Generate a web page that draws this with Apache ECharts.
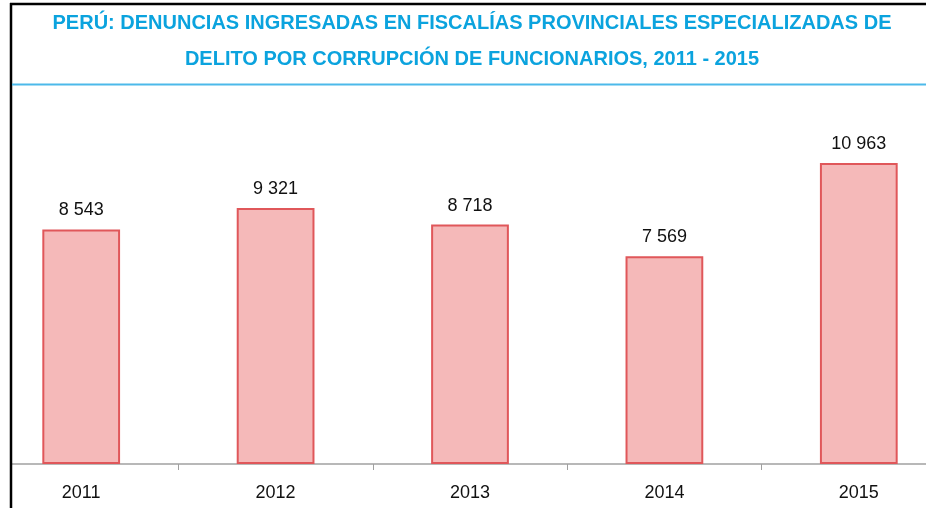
<!DOCTYPE html>
<html>
<head>
<meta charset="utf-8">
<script src="https://cdn.jsdelivr.net/npm/echarts@6/dist/echarts.min.js"></script>
<style>
  html, body { margin: 0; padding: 0; background: #fff; overflow: hidden; width: 926px; height: 508px; }
  /* the plot in the picture is cropped on both sides, so the canvas is wider than the page */
  #chart1 { position: absolute; left: -16px; top: 0; width: 972px; height: 508px; }
</style>
</head>
<body>
<div id="chart1"></div>
<script>
// data
const years = ['2011', '2012', '2013', '2014', '2015'];
const denuncias = [8543, 9321, 8718, 7569, 10963];

const fontFam = '"Liberation Sans", Arial, sans-serif';
const dx = 16; // shift between page and canvas

function fmtSpace(v) {
    // 10963 -> "10 963"
    return String(v).replace(/\B(?=(\d{3})+(?!\d))/g, ' ');
}

let dom1 = document.getElementById('chart1');
let Chart1 = echarts.init(dom1);

let option1 = {
    animation: false,
    backgroundColor: '#fff',
    title: {
        text: 'PERÚ: DENUNCIAS INGRESADAS EN FISCALÍAS PROVINCIALES ESPECIALIZADAS DE\nDELITO POR CORRUPCIÓN DE FUNCIONARIOS, 2011 - 2015',
        left: 467 + dx,
        textAlign: 'center',
        top: 0,
        textStyle: {
            fontFamily: fontFam,
            fontSize: 20,
            fontWeight: 'bold',
            color: '#0ba3de',
            lineHeight: 36
        }
    },
    grid: {
        left: 0,
        right: 0,
        top: 107,
        bottom: 44
    },
    xAxis: {
        type: 'category',
        data: years,
        axisLine: { lineStyle: { color: '#a0a0a0', width: 1.5 } },
        axisTick: { show: true, length: 6, lineStyle: { color: '#a0a0a0' } },
        axisLabel: {
            margin: 20,
            fontFamily: fontFam,
            fontSize: 18,
            color: '#111'
        }
    },
    yAxis: {
        type: 'value',
        min: 0,
        max: 13000,
        show: false,
        splitLine: { show: false }
    },
    series: [
        {
            name: 'Denuncias',
            type: 'bar',
            barWidth: '40%',
            data: denuncias,
            itemStyle: {
                color: '#f5b9b9',
                borderColor: '#e0575a',
                borderWidth: 2
            },
            label: {
                show: true,
                position: 'top',
                distance: 10,
                fontFamily: fontFam,
                fontSize: 18,
                color: '#111',
                formatter: function (p) { return fmtSpace(p.value); }
            }
        }
    ],
    graphic: [
        // white margin left of the frame (hides the axis line there)
        { type: 'rect', z: 100, shape: { x: 0, y: 0, width: 10 + dx, height: 508 }, style: { fill: '#fff' } },
        // black frame on the left and top
        { type: 'line', z: 101, shape: { x1: 11 + dx, y1: 3, x2: 11 + dx, y2: 508 }, style: { stroke: '#000', lineWidth: 2.5 } },
        { type: 'line', z: 101, shape: { x1: 10 + dx, y1: 4, x2: 926 + dx, y2: 4 }, style: { stroke: '#000', lineWidth: 2.5 } },
        // blue rule under the title
        { type: 'line', z: 101, shape: { x1: 12 + dx, y1: 84.5, x2: 926 + dx, y2: 84.5 }, style: { stroke: '#4cb9ea', lineWidth: 2 } }
    ]
};

Chart1.setOption(option1);
</script>
</body>
</html>
